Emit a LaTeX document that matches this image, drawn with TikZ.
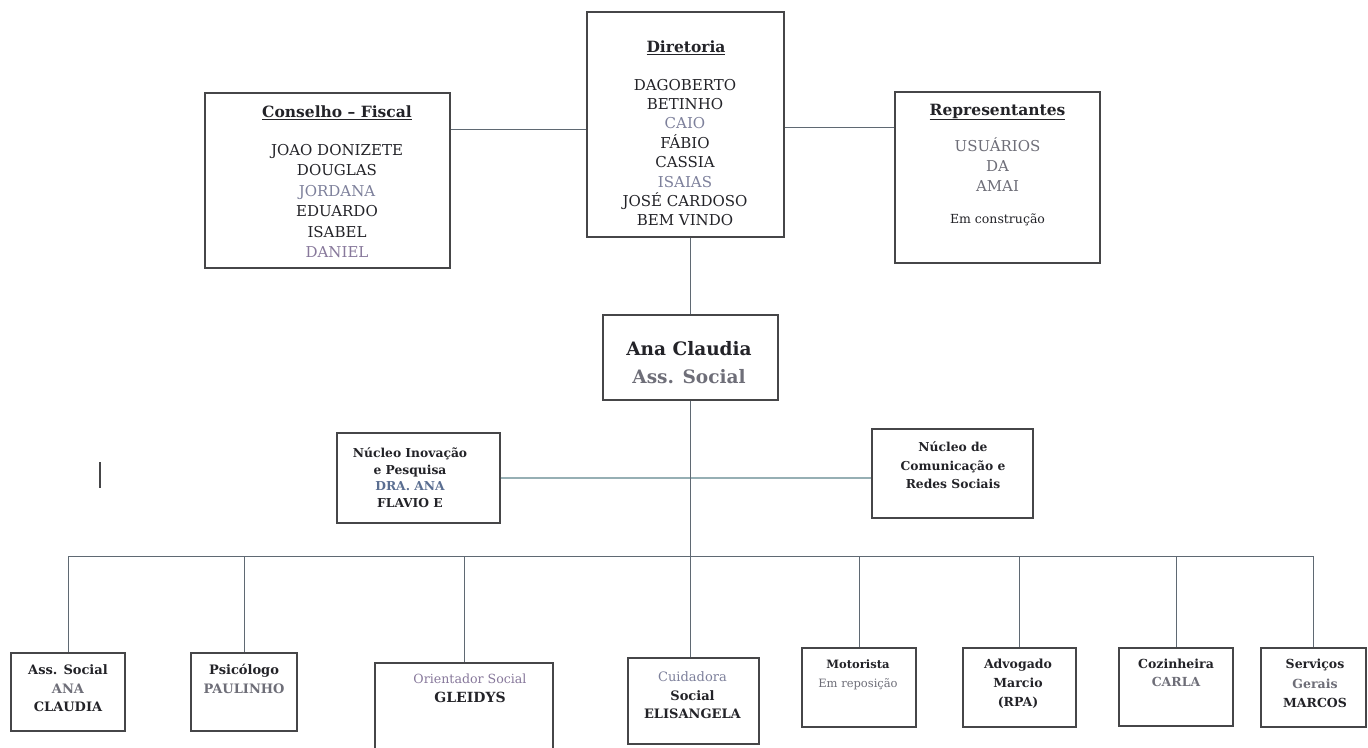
\documentclass[tikz,border=0pt]{standalone}
\usepackage{fontspec}
\setmainfont{DejaVu Serif}
\newcommand\setfs[2]{\fontsize{#1}{#2}\selectfont}
\definecolor{ink}{RGB}{35,35,40}
\definecolor{boxc}{RGB}{70,70,72}
\definecolor{connc}{RGB}{95,105,115}
\definecolor{nconn}{RGB}{150,175,180}
\definecolor{fade}{RGB}{125,128,155}
\definecolor{fadep}{RGB}{135,120,155}
\definecolor{grayt}{RGB}{110,110,120}
\definecolor{drac}{RGB}{90,110,145}
\tikzset{
  box/.style={draw=boxc, line width=1.3pt, inner sep=0pt},
  conn/.style={draw=connc, line width=1pt},
  txt/.style={align=center, inner sep=0pt, text=ink},
}
\begin{document}
\begin{tikzpicture}[x=1pt,y=-1pt]
\useasboundingbox (0,0) rectangle (1368,747);
\clip (0,0) rectangle (1368,747);
\fill[white] (0,0) rectangle (1368,747);

% top boxes
\node[box, minimum width=245, minimum height=175] (cf) at (327.5,180.5) {};
\node[box, minimum width=197, minimum height=225] (dir) at (685.5,124.5) {};
\node[box, minimum width=205, minimum height=171] (rep) at (997.5,177.5) {};

\node[txt, font=\setfs{15.5}{20}\bfseries] (cft) at (337,113) {\underline{Conselho -- Fiscal}};
\node[txt, font=\setfs{15}{20.4}] (cfn) at (337,201) {JOAO DONIZETE\\DOUGLAS\\\textcolor{fade}{JORDANA}\\EDUARDO\\ISABEL\\\textcolor{fadep}{DANIEL}};

\node[txt, font=\setfs{15.5}{19.5}\bfseries] (dirt) at (686,48) {\underline{Diretoria}};
\node[txt, font=\setfs{15}{19.4}] (dirn) at (685,152.5) {DAGOBERTO\\BETINHO\\\textcolor{fade}{CAIO}\\FÁBIO\\CASSIA\\\textcolor{fade}{ISAIAS}\\JOSÉ CARDOSO\\BEM VINDO};

\node[txt, font=\setfs{15.5}{20}\bfseries] (rept) at (997.5,112) {\underline{Representantes}};
\node[txt, font=\setfs{15}{20}, text=grayt] (repn) at (997.5,165) {USUÁRIOS\\DA\\AMAI};
\node[txt, font=\setfs{12.5}{14}] (repc) at (997.5,220) {Em construção};

\draw[conn] (cf.east |- 0,129) -- (dir.west |- 0,129);
\draw[conn] (dir.east |- 0,127) -- (rep.west |- 0,127);

% Ana Claudia
\node[box, minimum width=175, minimum height=85] (ana) at (690.5,357.5) {};
\node[txt, font=\setfs{18.5}{28}\bfseries] (anat) at (689,363) {Ana Claudia\\\textcolor{grayt}{Ass. Social}};
\draw[conn] (dir.south -| ana.north) -- (ana.north);

% Nucleos
\node[box, minimum width=163, minimum height=90] (ni) at (418.5,478) {};
\node[txt, font=\setfs{12.3}{16.5}\bfseries] (nit) at (410,477.5) {Núcleo Inovação\\e Pesquisa\\\textcolor{drac}{DRA. ANA}\\FLAVIO E};
\node[box, minimum width=161, minimum height=89] (nc) at (952.5,473.5) {};
\node[txt, font=\setfs{12.3}{18.5}\bfseries] (nct) at (953,465.5) {Núcleo de\\Comunicação e\\Redes Sociais};
\draw[draw=nconn, line width=1.3pt] (ni.east |- 0,478) -- (nc.west |- 0,478);

% stray mark
\coordinate (m1) at (100,462);
\coordinate (m2) at (100,488);
\draw[draw=boxc, line width=1.2pt] (m1) -- (m2);

% bottom boxes
\node[box, minimum width=114, minimum height=78] (b1) at (68,692) {};
\node[box, minimum width=106, minimum height=78] (b2) at (244,692) {};
\node[box, minimum width=178, minimum height=120] (b3) at (464,723) {};
\node[box, minimum width=131, minimum height=86] (b4) at (693.5,701) {};
\node[box, minimum width=114, minimum height=79] (b5) at (859,687.5) {};
\node[box, minimum width=113, minimum height=79] (b6) at (1019.5,687.5) {};
\node[box, minimum width=114, minimum height=78] (b7) at (1176,687) {};
\node[box, minimum width=105, minimum height=79] (b8) at (1313.5,687.5) {};

\node[txt, font=\setfs{13}{18.5}\bfseries] (t1) at (68,688.5) {Ass. Social\\\textcolor{grayt}{ANA}\\CLAUDIA};
\node[txt, font=\setfs{13}{18.5}\bfseries] (t2) at (244,679) {Psicólogo\\\textcolor{grayt}{PAULINHO}};
\node[txt, font=\setfs{12.6}{19}] (t3) at (470,688.5) {\textcolor{fadep}{Orientador Social}\\\textbf{\fontsize{14}{19}\selectfont GLEIDYS}};
\node[txt, font=\setfs{13}{18.5}] (t4) at (692.5,695.5) {\textcolor{fade}{Cuidadora}\\\textbf{Social}\\\textbf{ELISANGELA}};
\node[txt, font=\setfs{11.5}{19}] (t5) at (858,674.5) {\textbf{Motorista}\\\textcolor{grayt}{Em reposição}};
\node[txt, font=\setfs{12.5}{19}\bfseries] (t6) at (1018,684) {Advogado\\Marcio\\(RPA)};
\node[txt, font=\setfs{12.5}{18.5}\bfseries] (t7) at (1176,673) {Cozinheira\\\textcolor{grayt}{CARLA}};
\node[txt, font=\setfs{12.5}{19.5}\bfseries] (t8) at (1315,683.5) {Serviços\\\textcolor{grayt}{Gerais}\\MARCOS};

% bus
\coordinate (busL) at (b1.north |- 0,556);
\coordinate (busR) at (b8.north |- 0,556);
\draw[conn] (busL) -- (busR);
\draw[conn] (ana.south) -- (ana.south |- b4.north);
\foreach \b in {b1,b2,b3,b5,b6,b7,b8} {
  \draw[conn] (\b.north |- busL) -- (\b.north);
}
\end{tikzpicture}
\end{document}
